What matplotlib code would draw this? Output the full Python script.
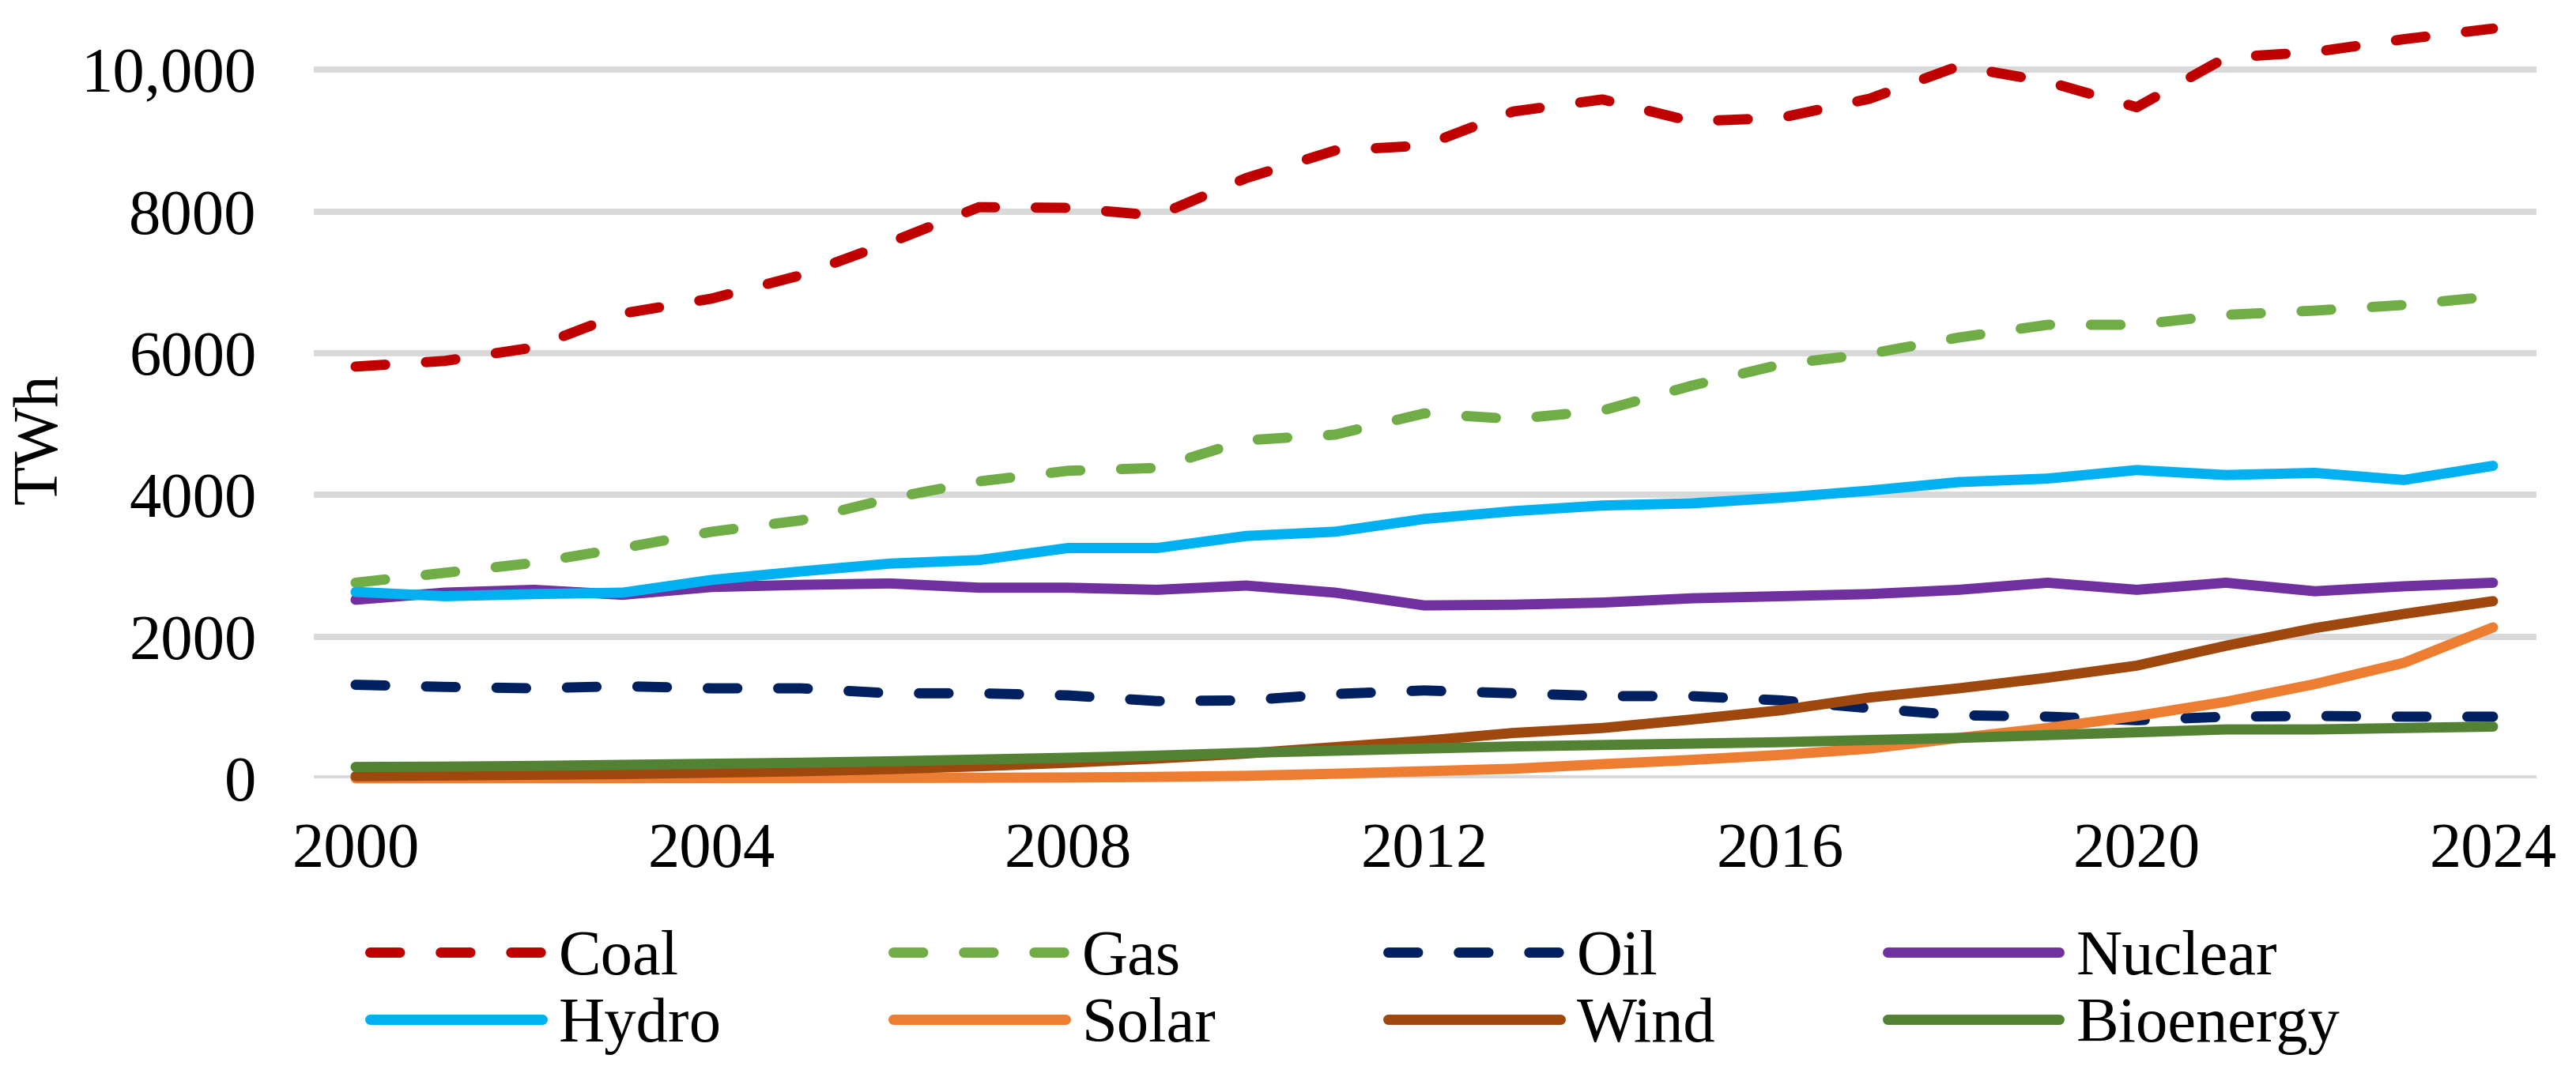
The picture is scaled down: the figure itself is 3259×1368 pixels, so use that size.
#!/usr/bin/env python
# -*-coding:utf-8-*-

"""
Electricity generation by source, 2000-2024 (TWh)
"""

import matplotlib
matplotlib.use("Agg")
import matplotlib.pyplot as plt

years = list(range(2000, 2025))

coal = [5810, 5890, 6080, 6560, 6770, 7100, 7560, 8060, 8050, 7940, 8470, 8860, 8930, 9410,
        9580, 9270, 9320, 9590, 10050, 9830, 9470, 10170, 10250, 10430, 10580]
gas = [2760, 2900, 3040, 3250, 3480, 3640, 3950, 4190, 4340, 4380, 4770, 4850, 5150, 5070,
       5190, 5540, 5840, 5990, 6220, 6400, 6400, 6540, 6600, 6680, 6800]
oil = [1320, 1290, 1270, 1300, 1270, 1270, 1200, 1200, 1170, 1090, 1100, 1190, 1240, 1200,
       1160, 1160, 1100, 990, 890, 870, 820, 870, 880, 870, 870]
nuclear = [2520, 2620, 2660, 2590, 2700, 2730, 2750, 2690, 2690, 2660, 2720, 2620, 2440, 2450,
           2480, 2540, 2570, 2600, 2660, 2760, 2660, 2760, 2640, 2710, 2760]
hydro = [2630, 2570, 2600, 2620, 2800, 2920, 3030, 3080, 3250, 3250, 3420, 3480, 3660, 3770,
         3850, 3880, 3960, 4060, 4180, 4230, 4350, 4280, 4310, 4210, 4410]
solar = [1, 1, 2, 3, 4, 5, 6, 8, 12, 20, 35, 65, 100, 135, 200, 260, 330, 420, 570, 710,
         880, 1080, 1330, 1630, 2130]
wind = [30, 40, 50, 60, 80, 100, 130, 170, 220, 280, 350, 440, 530, 640, 710, 830, 960, 1140,
        1270, 1420, 1590, 1870, 2120, 2320, 2500]
bio = [160, 165, 175, 190, 205, 220, 240, 265, 290, 320, 360, 390, 420, 450, 470, 490, 510,
       540, 570, 610, 650, 690, 690, 710, 730]

names = ['Coal', 'Gas', 'Oil', 'Nuclear', 'Hydro', 'Solar', 'Wind', 'Bioenergy']
series = [coal, gas, oil, nuclear, hydro, solar, wind, bio]
colors = ['#C00000', '#70AD47', '#002060', '#7030A0', '#00B0F0', '#ED7D31', '#9E480E', '#548235']
dashed = [True, True, True, False, False, False, False, False]

yticks = [0, 2000, 4000, 6000, 8000, 10000]
ytick_labels = ['0', '2000', '4000', '6000', '8000', '10,000']
xticks = [2000, 2004, 2008, 2012, 2016, 2020, 2024]

plt.rcParams['font.family'] = ['Liberation Serif', 'DejaVu Serif']
fs = 58

fig = plt.figure(figsize=(32.59, 13.68), dpi=100)
ax = fig.add_axes([0.1218, 0.28, 0.8629, 0.72])

lines = []
for name, vals, c, d in zip(names, series, colors, dashed):
    if d:
        ln, = ax.plot(years, vals, color=c, lw=9.3, label=name, clip_on=False,
                      dashes=(2.9, 4.0), dash_capstyle='round', solid_capstyle='round')
    else:
        ln, = ax.plot(years, vals, color=c, lw=9.3, label=name, clip_on=False,
                      solid_capstyle='round', solid_joinstyle='round')
    lines.append(ln)

ax.set_xlim(1999.53, 2024.49)
ax.set_ylim(0, 10983)
ax.set_yticks(yticks)
ax.set_yticklabels(ytick_labels)
ax.set_xticks(xticks)
ax.tick_params(axis='both', length=0, labelsize=fs)
ax.tick_params(axis='y', pad=52)
ax.tick_params(axis='x', pad=40)
ax.grid(axis='y', color='#D9D9D9', lw=5.7)
ax.set_axisbelow(True)
for s in ax.spines.values():
    s.set_visible(False)

fig.text(52 / 3259, 1 - 555 / 1368, 'TWh', rotation=90, fontsize=fs, ha='center', va='center')

# legend goes row by row, matplotlib fills columns, so reorder
order = [0, 4, 1, 5, 2, 6, 3, 7]
fig.legend([lines[i] for i in order], [names[i] for i in order], ncol=4,
           loc='center left', bbox_to_anchor=(468 / 3259, 1 - 1256 / 1368),
           frameon=False, fontsize=fs, handlelength=2.7, handletextpad=0.26,
           columnspacing=2.7, labelspacing=0.15, borderpad=0, borderaxespad=0)

fig.savefig('out.png', dpi=100)
